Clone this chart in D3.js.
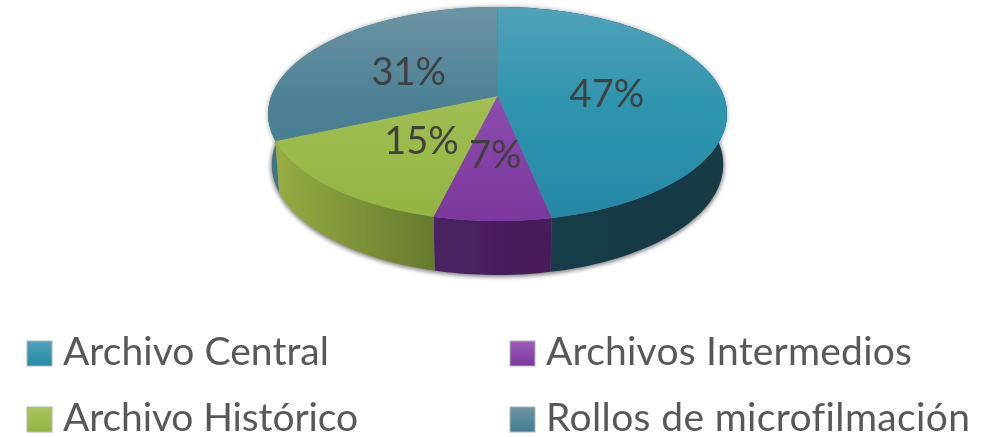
<!DOCTYPE html>
<meta charset="utf-8">
<style>
  html, body { margin: 0; padding: 0; background: #fff; }
  svg { display: block; }
  text { font-family: Lato, "Open Sans", sans-serif; font-variant-ligatures: none; }
</style>

<!-- Load d3.js -->
<script src="https://d3js.org/d3.v7.min.js"></script>

<!-- Create a div where the graph will take place -->
<div id="my_dataviz"></div>

<script>
  var categories = ["Archivo Central", "Archivos Intermedios", "Archivo Histórico", "Rollos de microfilmación"];
  var values = [46.8, 7, 14.6, 31.6];
  var percentLabels = ["47%", "7%", "15%", "31%"];

  // colours: top of face, bottom of face, wall left, wall right
  var faceTop = ["#50a2b9", "#9b5cb9", "#abc661", "#6c94a4"];
  var faceBottom = ["#2688a5", "#7b379e", "#92b441", "#457c90"];
  var wallLeft = ["#143d48", "#4b2263", "#95ad42", "#3f7285"];
  var wallRight = ["#123a45", "#451c57", "#677a2e", "#3f7285"];

  // printed width of each legend text
  var legendWidths = [266, 366, 295, 424];

  var width = 1001,
    height = 437;

  // the pie is a circle seen in perspective, k is how strong
  var cx = 497.5,
    k = 0.168,
    topRim = { y0: 96, ay: 104, rx: 226.2 },
    bottomRim = { y0: 146, ay: 107.3, rx: 222.5 };

  function project(angle, r, rim) {
    var u = r * Math.sin(angle),
      v = r * Math.cos(angle),
      w = 1 + k * v;
    return [cx + rim.rx * u / w, rim.y0 - rim.ay * v / w];
  }

  var svg = d3.select("#my_dataviz")
    .append("svg")
    .attr("width", width)
    .attr("height", height);

  var defs = svg.append("defs");

  defs.append("filter").attr("id", "shadow")
    .attr("x", "-10%").attr("y", "-10%").attr("width", "120%").attr("height", "120%")
    .append("feGaussianBlur").attr("stdDeviation", 2.2);
  defs.append("filter").attr("id", "soft")
    .attr("filterUnits", "userSpaceOnUse")
    .attr("x", 0).attr("y", 0).attr("width", width).attr("height", height)
    .append("feGaussianBlur").attr("stdDeviation", 0.5);

  categories.forEach(function(c, i) {
    var f = defs.append("linearGradient").attr("id", "face" + i)
      .attr("gradientUnits", "userSpaceOnUse")
      .attr("x1", 0).attr("x2", 0).attr("y1", 7).attr("y2", 221);
    f.append("stop").attr("offset", "0%").attr("stop-color", faceTop[i]);
    f.append("stop").attr("offset", i == 0 || i == 3 ? "45%" : "100%")
      .attr("stop-color", i == 0 ? "#2f95ae" : i == 3 ? "#4c8094" : faceBottom[i]);
    f.append("stop").attr("offset", "100%").attr("stop-color", faceBottom[i]);

    var s = defs.append("linearGradient").attr("id", "swatch" + i)
      .attr("x1", 0).attr("x2", 0).attr("y1", 0).attr("y2", 1);
    s.append("stop").attr("offset", "0%").attr("stop-color", faceTop[i]);
    s.append("stop").attr("offset", "100%").attr("stop-color", faceBottom[i]);
  });

  var line = d3.line();
  var pie = d3.pie().sort(null).value(function(d) { return d; });
  var slices = pie(values);

  function rimPoints(a0, a1, rim) {
    var n = Math.max(2, Math.ceil(Math.abs(a1 - a0) * 40));
    return d3.range(n + 1).map(function(j) {
      return project(a0 + (a1 - a0) * j / n, 1, rim);
    });
  }

  // horizontal gradient for each wall, over the width it really takes
  slices.forEach(function(d, i) {
    var xs = rimPoints(d.startAngle, d.endAngle, topRim).map(function(p) { return p[0]; });
    var g = defs.append("linearGradient").attr("id", "wall" + i)
      .attr("gradientUnits", "userSpaceOnUse")
      .attr("x1", d3.min(xs)).attr("x2", d3.max(xs)).attr("y1", 0).attr("y2", 0);
    g.append("stop").attr("offset", "0%").attr("stop-color", wallLeft[i]);
    g.append("stop").attr("offset", "100%").attr("stop-color", wallRight[i]);
  });

  // everything is a little soft in the original
  var chart = svg.append("g").attr("filter", "url(#soft)");
  var pieGroup = chart.append("g");

  // soft shadow round the whole body
  var outline = rimPoints(0, 2 * Math.PI, bottomRim);
  pieGroup.append("path")
    .attr("d", line(outline) + "Z")
    .attr("transform", "translate(0,1)")
    .attr("fill", "#555")
    .attr("stroke", "#555")
    .attr("stroke-width", 2)
    .attr("opacity", 0.75)
    .attr("filter", "url(#shadow)");
  pieGroup.append("path")
    .attr("d", line(rimPoints(0, 2 * Math.PI, topRim)) + "Z")
    .attr("fill", "#777")
    .attr("stroke", "#777")
    .attr("stroke-width", 1)
    .attr("opacity", 0.6)
    .attr("filter", "url(#shadow)");

  // walls, back ones first
  [0, 3, 1, 2].forEach(function(i) {
    var d = slices[i];
    var pts = rimPoints(d.startAngle, d.endAngle, topRim)
      .concat(rimPoints(d.endAngle, d.startAngle, bottomRim));
    pieGroup.append("path")
      .attr("d", line(pts) + "Z")
      .attr("fill", "url(#wall" + i + ")");
  });

  // top faces
  pieGroup.selectAll(".face")
    .data(slices)
    .enter()
    .append("path")
    .attr("class", "face")
    .attr("fill", function(d, i) { return "url(#face" + i + ")"; })
    .attr("d", function(d) {
      return line([project(0, 0, topRim)].concat(rimPoints(d.startAngle, d.endAngle, topRim))) + "Z";
    });

  // percentage labels
  chart.selectAll(".pct")
    .data(slices)
    .enter()
    .append("text")
    .attr("class", "pct")
    .attr("text-anchor", "middle")
    .attr("font-size", 38)
    .attr("fill", "#404040")
    .attr("transform", function(d) {
      var p = project((d.startAngle + d.endAngle) / 2, 0.49, topRim);
      return "translate(" + p[0] + "," + (p[1] + 16) + ")";
    })
    .text(function(d, i) { return percentLabels[i]; });

  // legend, two columns and two rows
  var legendX = d3.scaleOrdinal().domain([0, 1]).range([27, 510]);
  var legendY = d3.scaleOrdinal().domain([0, 1]).range([341, 407]);

  var legend = chart.selectAll(".legend")
    .data(categories)
    .enter()
    .append("g")
    .attr("class", "legend")
    .attr("transform", function(d, i) {
      return "translate(" + legendX(i % 2) + "," + legendY(Math.floor(i / 2)) + ")";
    });

  legend.append("rect")
    .attr("width", 25)
    .attr("height", 25)
    .attr("fill", function(d, i) { return "url(#swatch" + i + ")"; })
    .attr("stroke", "#b5b5b5")
    .attr("stroke-width", 1);

  legend.append("text")
    .attr("x", 36)
    .attr("y", 24)
    .attr("font-size", 39)
    .attr("fill", "#595959")
    .attr("textLength", function(d, i) { return legendWidths[i]; })
    .attr("lengthAdjust", "spacing")
    .text(function(d) { return d; });
</script>
